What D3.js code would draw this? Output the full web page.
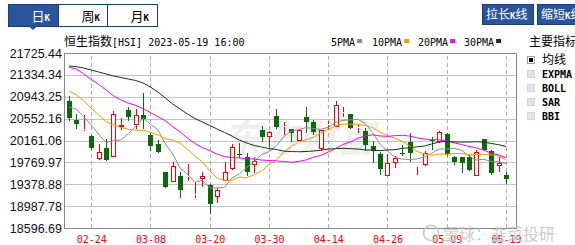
<!DOCTYPE html>
<html>
<head>
<meta charset="utf-8" />
<title>恒生指数 日K</title>
<script src="https://d3js.org/d3.v7.min.js"></script>
<style>
  body { margin: 0; background: #fff; }
  #chart { display: block; }
  .cjk { font-family: "Noto Sans CJK SC", sans-serif; }
  .mono { font-family: "DejaVu Sans Mono", monospace; }
</style>
</head>
<body>
<svg id="chart" width="575" height="245"></svg>
<script>
// trading days 2023-02-21 .. 2023-05-19
var dates = ["02-21","02-22","02-23","02-24","02-27","02-28","03-01","03-02","03-03","03-06",
  "03-07","03-08","03-09","03-10","03-13","03-14","03-15","03-16","03-17","03-20",
  "03-21","03-22","03-23","03-24","03-27","03-28","03-29","03-30","03-31","04-03",
  "04-04","04-06","04-11","04-12","04-13","04-14","04-17","04-18","04-19","04-20",
  "04-21","04-24","04-25","04-26","04-27","04-28","05-02","05-03","05-04","05-05",
  "05-08","05-09","05-10","05-11","05-12","05-15","05-16","05-17","05-18","05-19"];

var openV = [20867,20527,20355,20241,19839,20027,19875,20397,20706,20438,
  20617,20259,20093,19592,19424,19526,19500,19186,19467,19365,
  19142,19442,19651,19911,19861,19718,20349,20229,20604,20402,
  20361,20157,20576,20492,20004,20447,20408,20653,20635,20384,
  20331,20063,19920,19532,19753,19937,20129,19700,19723,20170,
  20139,20272,19861,19861,19871,19526,20182,19979,19705,19544];
var highV = [20957,20635,20617,20259,20098,20179,20688,20563,20760,20724,
  21005,20290,20170,19600,19782,19603,19741,19419,19598,19392,
  19312,19782,20098,20121,19932,19871,20420,20325,20719,20497,
  20375,20355,20755,20528,20355,20515,20867,20755,20640,20438,
  20379,20157,19961,19920,19884,20080,20290,19710,19979,20229,
  20336,20300,19884,19870,19920,19991,20190,19991,19884,19603];
var lowV = [20510,20367,20331,20000,19812,19803,19866,20340,20510,20372,
  20366,19979,19932,19306,19414,19138,19437,19127,19330,18855,
  19038,19430,19633,19842,19532,19585,20139,20039,20361,20259,
  20139,20150,20300,20259,19979,20349,20397,20586,20370,20300,
  19979,19753,19544,19532,19664,19884,19782,19544,19705,19991,
  20121,19884,19723,19574,19620,19526,19979,19544,19603,19383];
var closeV = [20563,20456,20370,20027,19955,19812,20626,20433,20590,20617,
  20545,20068,19950,19335,19705,19276,19530,19213,19526,19017,
  19276,19592,20050,19893,19592,19794,20218,20313,20408,20415,
  20290,20349,20497,20318,20349,20465,20796,20665,20379,20397,
  20080,19979,19646,19753,19843,19920,19943,19705,19943,20152,
  20313,19920,19782,19764,19633,19961,19991,19574,19753,19467];

var ma5 = [20765,20719,20586,20438,20274,20124,20158,20171,20283,20416,
  20562,20451,20354,20103,19921,19667,19559,19412,19450,19312,
  19312,19325,19492,19566,19681,19784,19909,19962,20065,20230,
  20329,20355,20392,20374,20361,20396,20485,20519,20531,20540,
  20463,20300,20096,19971,19860,19828,19821,19833,19871,19933,
  20011,20007,20022,19986,19882,19812,19826,19785,19782,19749];
var ma10 = [21046,20974,20873,20737,20617,20497,20438,20397,20361,20345,
  20343,20304,20262,20193,20168,20115,20005,19883,19777,19617,
  19490,19442,19452,19508,19497,19548,19617,19727,19815,19955,
  20057,20132,20177,20219,20295,20362,20420,20455,20452,20451,
  20430,20393,20307,20251,20200,20146,20061,19965,19921,19896,
  19920,19914,19927,19929,19908,19912,19916,19903,19884,19816];
var ma20 = [21470,21439,21350,21255,21166,21064,20962,20885,20830,20790,
  20730,20660,20586,20515,20408,20318,20200,20111,20032,19981,
  19916,19873,19857,19850,19832,19831,19811,19805,19796,19786,
  19773,19787,19814,19864,19896,19955,20019,20091,20134,20203,
  20243,20262,20242,20235,20248,20254,20240,20210,20187,20173,
  20175,20153,20117,20090,20054,20029,19988,19934,19903,19856];
var ma30 = [21493,21480,21457,21421,21386,21350,21314,21287,21261,21234,
  21189,21117,21028,20921,20813,20724,20635,20554,20492,20429,
  20366,20304,20241,20170,20116,20072,20045,20018,20000,19972,
  19963,19960,19964,19973,19987,20008,20014,20022,20015,20007,
  19992,19989,19979,19993,19997,20019,20033,20049,20063,20101,
  20135,20146,20137,20133,20134,20140,20132,20108,20086,20054];

var xTickLabels = ["02-24","03-08","03-20","03-30","04-14","04-26","05-09","05-19"];
var yTickLabels = ["21725.44","21334.34","20943.25","20552.16","20161.06",
  "19769.97","19378.88","18987.78","18596.69"];
var maNames = ["5PMA","10PMA","20PMA","30PMA"];
var indicatorNames = ["均线","EXPMA","BOLL","SAR","BBI"];

var svg = d3.select("#chart");
var plot = { left: 64, right: 516, top: 53, bottom: 228 };
var upColor = "#ff0000", downColor = "#0a6a0a";
var maColors = ["#8c8c8c", "#ff9900", "#ff00ff", "#0b3d0b"];
var blue = "#2a559b", blueDark = "#1c3d7c";

var x = d3.scaleBand().domain(dates).range([65.3, 509.7]).padding(0);
var y = d3.scaleLinear().domain([18596.69, 21725.44]).range([plot.bottom, plot.top]);
function cx(d) { return Math.round(x(d) + x.bandwidth() / 2); }

// ---- top toolbar ----
var tabs = [{ c: "日", on: true }, { c: "周", on: false }, { c: "月", on: false }];
var tabX = [8.5, 58.5, 107.5, 157.5];
tabs.forEach(function (t, i) {
  svg.append("rect").attr("x", tabX[i]).attr("y", 4.5)
    .attr("width", tabX[i + 1] - tabX[i]).attr("height", 22)
    .attr("fill", t.on ? blue : "#fff").attr("stroke", blueDark);
  var tx = svg.append("text").attr("x", tabX[i] + 23).attr("y", 20.5)
    .attr("fill", t.on ? "#fff" : "#000");
  tx.append("tspan").attr("class", "cjk").attr("font-size", 13).text(t.c);
  tx.append("tspan").attr("class", "mono").attr("font-size", 9).attr("font-weight", "bold").text("K");
});
svg.append("path").attr("d", "M29,26.5L37,26.5L33,30Z").attr("fill", blue);

var btns = [{ x: 482, t: ["拉长", "线"] }, { x: 537, t: ["缩短", "线"] }];
btns.forEach(function (b) {
  svg.append("rect").attr("x", b.x + 0.5).attr("y", 4.5).attr("width", 51).attr("height", 20)
    .attr("fill", blue).attr("stroke", blueDark);
  var tx = svg.append("text").attr("x", b.x + 4).attr("y", 19).attr("fill", "#fff");
  tx.append("tspan").attr("class", "cjk").attr("font-size", 12).text(b.t[0]);
  tx.append("tspan").attr("class", "mono").attr("font-size", 9).attr("font-weight", "bold").text("K");
  tx.append("tspan").attr("class", "cjk").attr("font-size", 12).text(b.t[1]);
});

// ---- title + legend ----
var title = svg.append("text").attr("x", 64).attr("y", 45.5).attr("fill", "#000");
title.append("tspan").attr("class", "cjk").attr("font-size", 12).text("恒生指数");
title.append("tspan").attr("class", "mono").attr("font-size", 10).text("[HSI] 2023-05-19 16:00");

var legX = [331, 372, 418, 464];
maNames.forEach(function (n, i) {
  svg.append("text").attr("class", "mono").attr("font-size", 10).attr("x", legX[i]).attr("y", 45.5)
    .attr("fill", "#000").text(n);
  svg.append("rect").attr("x", legX[i] + n.length * 6.02 + 2).attr("y", 39)
    .attr("width", 5).attr("height", 4).attr("fill", maColors[i]);
});

// ---- right panel ----
svg.append("text").attr("class", "cjk").attr("font-size", 12).attr("x", 529).attr("y", 45.5)
  .attr("fill", "#000").text("主要指标");
indicatorNames.forEach(function (n, i) {
  var cy = 59.5 + i * 14.2;
  svg.append("rect").attr("x", 527.5).attr("y", Math.round(cy) - 3.5).attr("width", 7).attr("height", 7)
    .attr("fill", i === 0 ? "#fff" : "#e4e4e4").attr("stroke", i === 0 ? "#a0a0a0" : "#d6d6d6");
  if (i === 0) {
    svg.append("rect").attr("x", 529).attr("y", Math.round(cy) - 2).attr("width", 4).attr("height", 4).attr("fill", "#000");
  }
  svg.append("text").attr("class", i === 0 ? "cjk" : "mono").attr("font-size", i === 0 ? 12 : 10)
    .attr("font-weight", i === 0 ? "normal" : "bold")
    .attr("x", 542).attr("y", cy + 4).attr("fill", "#000").text(n);
});

// ---- grid ----
var yVals = yTickLabels.map(function (s) { return parseFloat(s); });
svg.append("g").attr("transform", "translate(" + plot.left + ",0)")
  .call(d3.axisLeft(y).tickValues(yVals).tickSize(-(plot.right - plot.left)).tickFormat(""))
  .call(function (g) {
    g.select(".domain").remove();
    g.selectAll(".tick line").attr("stroke", "#c4c4c4").attr("shape-rendering", "crispEdges");
  });

// faint watermark behind the candles
svg.append("text").attr("class", "cjk").attr("x", 222).attr("y", 152)
  .attr("font-size", 38).attr("font-weight", "bold").attr("font-style", "italic")
  .attr("fill", "#000").attr("opacity", 0.06).text("东方财富");

svg.append("g").attr("transform", "translate(0," + plot.bottom + ")")
  .call(d3.axisBottom(x).tickValues(xTickLabels).tickSize(-(plot.bottom - plot.top)).tickFormat(""))
  .call(function (g) {
    g.select(".domain").remove();
    g.selectAll(".tick line").attr("stroke", "#b0b0b0").attr("stroke-dasharray", "4,3")
      .attr("shape-rendering", "crispEdges")
      .attr("transform", function () { return "translate(" + 0.5 + ",0)"; });
  });

svg.append("rect").attr("x", plot.left + 0.5).attr("y", plot.top + 0.5)
  .attr("width", plot.right - plot.left).attr("height", plot.bottom - plot.top)
  .attr("fill", "none").attr("stroke", "#8a8a8a");

// ---- axes labels ----
svg.append("g").attr("transform", "translate(" + (plot.left - 2) + ",0)")
  .call(d3.axisLeft(y).tickValues(yVals).tickSize(0).tickPadding(0)
    .tickFormat(function (d, i) { return yTickLabels[i]; }))
  .call(function (g) {
    g.select(".domain").remove();
    g.selectAll("text").attr("font-family", "'Liberation Sans', Arial, sans-serif")
      .attr("font-size", 12.5).attr("fill", "#101020");
  });

svg.append("g").attr("transform", "translate(0,235)")
  .call(d3.axisBottom(x).tickValues(xTickLabels).tickSize(0).tickPadding(0))
  .call(function (g) {
    g.select(".domain").remove();
    g.selectAll("text").attr("font-family", "'DejaVu Sans Mono', monospace")
      .attr("font-size", 10).attr("fill", "#ff0000").attr("dy", "0.75em")
      .attr("dx", 0.5);
  });

// ---- candles ----
var idx = d3.range(dates.length);
var candles = svg.append("g").attr("shape-rendering", "crispEdges");
idx.forEach(function (i) {
  var c = cx(dates[i]);
  var up = closeV[i] >= openV[i];
  var col = up ? upColor : downColor;
  var top = Math.round(y(Math.max(openV[i], closeV[i])));
  var bot = Math.round(y(Math.min(openV[i], closeV[i])));
  var hi = Math.round(y(highV[i])), lo = Math.round(y(lowV[i]));
  if (bot - top < 1) bot = top + 1;
  if (up) {
    candles.append("line").attr("x1", c + 0.5).attr("x2", c + 0.5).attr("y1", hi).attr("y2", top)
      .attr("stroke", col);
    candles.append("line").attr("x1", c + 0.5).attr("x2", c + 0.5).attr("y1", bot).attr("y2", lo)
      .attr("stroke", col);
    candles.append("rect").attr("x", c - 1.5).attr("y", top + 0.5)
      .attr("width", 4).attr("height", Math.max(bot - top - 1, 0))
      .attr("fill", "#fff").attr("stroke", col);
  } else {
    candles.append("line").attr("x1", c + 0.5).attr("x2", c + 0.5).attr("y1", hi).attr("y2", lo)
      .attr("stroke", col);
    candles.append("rect").attr("x", c - 2).attr("y", top)
      .attr("width", 5).attr("height", bot - top).attr("fill", col);
  }
});

// ---- moving averages ----
[ma5, ma10, ma20, ma30].forEach(function (arr, k) {
  var line = d3.line()
    .x(function (d, i) { return x(dates[i]) + x.bandwidth() / 2; })
    .y(function (d) { return y(d); });
  svg.append("path").datum(arr).attr("d", line).attr("fill", "none")
    .attr("stroke", maColors[k]).attr("stroke-width", 1);
});

// ---- watermark bottom-right ----
svg.append("circle").attr("cx", 431).attr("cy", 233).attr("r", 7.5)
  .attr("fill", "none").attr("stroke", "#c8c8c8").attr("stroke-width", 1.6);
svg.append("text").attr("class", "cjk").attr("x", 443).attr("y", 240)
  .attr("font-size", 16).attr("fill", "#c8c8c8").attr("opacity", 0.9).text("雪球：韭菜投研");
</script>
</body>
</html>
